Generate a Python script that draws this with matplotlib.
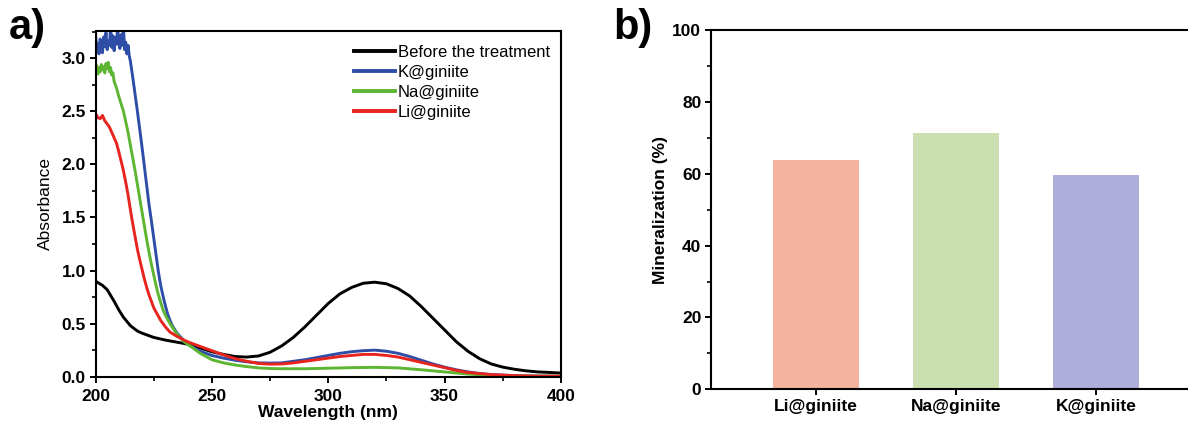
import numpy as np
import matplotlib
matplotlib.use("Agg")
import matplotlib.pyplot as plt
from matplotlib.ticker import MultipleLocator, FormatStrFormatter

plt.rcParams['font.family'] = ['Liberation Sans', 'DejaVu Sans']

# ======== Panel a: UV-vis spectra ========
wl_before = [200, 203, 205, 208, 210, 212, 215, 218, 220, 225, 230, 235, 240, 245, 250,
             255, 260, 265, 270, 275, 280, 285, 290, 295, 300, 305, 310, 315, 320, 325,
             330, 335, 340, 345, 350, 355, 360, 365, 370, 375, 380, 385, 390, 395, 400]
abs_before = [0.90, 0.86, 0.82, 0.71, 0.63, 0.56, 0.48, 0.43, 0.41, 0.37, 0.345, 0.325,
              0.305, 0.27, 0.235, 0.21, 0.19, 0.185, 0.195, 0.23, 0.29, 0.37, 0.47,
              0.58, 0.69, 0.78, 0.84, 0.88, 0.89, 0.875, 0.83, 0.76, 0.66, 0.55, 0.44,
              0.33, 0.24, 0.17, 0.12, 0.09, 0.07, 0.055, 0.045, 0.04, 0.035]

# noisy saturated region read at 0.5 nm steps
wl_k = [200, 200.5, 201, 201.5, 202, 202.5, 203, 203.5, 204, 204.5, 205, 205.5, 206,
        206.5, 207, 207.5, 208, 208.5, 209, 209.5, 210, 210.5, 211, 211.5, 212, 212.5,
        213, 213.5, 214, 214.5, 215,
        216, 217, 218, 219, 220, 221, 222, 223, 224, 225, 226, 227, 228, 229, 230, 231,
        232, 233, 235, 238, 240, 245, 250, 255, 260, 265, 270, 275, 280, 285, 290, 295,
        300, 305, 310, 315, 320, 325, 330, 335, 340, 345, 350, 355, 360, 365, 370, 380,
        390, 400]
abs_k = [3.25, 3.06, 3.14, 3.04, 3.18, 3.09, 3.05, 3.20, 3.11, 3.24, 3.08, 3.16, 3.12,
         3.30, 3.10, 3.21, 3.07, 3.19, 3.13, 3.30, 3.14, 3.09, 3.22, 3.12, 3.30, 3.08,
         3.15, 3.04, 3.12, 3.02, 2.97,
         2.82, 2.66, 2.50, 2.33, 2.16, 1.98, 1.80, 1.62, 1.47, 1.31,
         1.15, 0.99, 0.86, 0.76, 0.67, 0.59, 0.53, 0.48, 0.41, 0.34, 0.30, 0.24, 0.20,
         0.175, 0.155, 0.14, 0.13, 0.128, 0.13, 0.145, 0.16, 0.18, 0.20, 0.22, 0.235,
         0.245, 0.25, 0.24, 0.22, 0.19, 0.155, 0.12, 0.09, 0.065, 0.045, 0.03, 0.02,
         0.01, 0.006, 0.005]

wl_na = [200, 200.5, 201, 201.5, 202, 202.5, 203, 203.5, 204, 204.5, 205, 205.5, 206,
         206.5, 207, 207.5, 208, 209, 210, 211, 212, 213, 214, 215,
         216, 217, 218, 219, 220, 221, 222, 223, 224, 225, 226, 227, 228, 229, 230, 232,
         235, 238, 240, 245, 250, 255, 260, 265, 270, 275, 280, 290, 300, 310, 320, 330,
         340, 350, 360, 370, 380, 400]
abs_na = [2.88, 2.93, 2.85, 2.91, 2.87, 2.94, 2.89, 2.92, 2.86, 2.95, 2.90, 2.96, 2.87,
          2.91, 2.84, 2.86, 2.78, 2.72, 2.64, 2.57, 2.50, 2.40, 2.30, 2.18,
          2.06, 1.94, 1.81, 1.68, 1.55, 1.42, 1.29, 1.17, 1.06, 0.96,
          0.86, 0.77, 0.70, 0.63, 0.58, 0.50, 0.40, 0.33, 0.30, 0.22, 0.16, 0.13, 0.11,
          0.095, 0.083, 0.077, 0.075, 0.075, 0.08, 0.085, 0.088, 0.083, 0.065, 0.045,
          0.025, 0.012, 0.006, 0.003]

wl_li = [200, 201, 202, 203, 204, 205, 206, 207, 208, 209, 210, 211, 212, 213, 214, 215,
         216, 217, 218, 219, 220, 221, 222, 223, 224, 225, 226, 228, 230, 232, 235, 238,
         240, 245, 250, 255, 260, 265, 270, 275, 280, 285, 290, 295, 300, 305, 310, 315,
         320, 325, 330, 335, 340, 345, 350, 355, 360, 365, 370, 380, 390, 400]
abs_li = [2.48, 2.44, 2.43, 2.46, 2.41, 2.38, 2.35, 2.30, 2.25, 2.20, 2.12, 2.03, 1.94,
          1.83, 1.71, 1.57, 1.44, 1.32, 1.20, 1.10, 1.01, 0.92, 0.84, 0.77, 0.71, 0.65,
          0.61, 0.53, 0.47, 0.42, 0.38, 0.345, 0.325, 0.285, 0.245, 0.205, 0.17, 0.145,
          0.125, 0.118, 0.12, 0.13, 0.145, 0.16, 0.175, 0.19, 0.20, 0.21, 0.21, 0.20,
          0.185, 0.16, 0.135, 0.11, 0.085, 0.06, 0.04, 0.03, 0.02, 0.01, 0.005, 0.005]

series = [
    ('Before the treatment', wl_before, abs_before, 'black'),
    ('K@giniite', wl_k, abs_k, '#2E4DA7'),
    ('Na@giniite', wl_na, abs_na, '#5DB531'),
    ('Li@giniite', wl_li, abs_li, '#E8241E'),
]

# ======== Panel b: mineralization ========
samples = ['Li@giniite', 'Na@giniite', 'K@giniite']
mineralization = [63.9, 71.3, 59.6]
bar_colors = ['#F5B49F', '#CBE0B1', '#ADAEDA']

W, H = 1188, 425
fig = plt.figure(figsize=(W / 100, H / 100), dpi=100)

ax1 = fig.add_axes([95.5 / W, 1 - 376.7 / H, (561 - 95.5) / W, (376.7 - 30.5) / H])
for label, x, y, c in series:
    ax1.plot(x, y, color=c, linewidth=2.1, label=label)

ax1.set_xlim(200, 400)
ax1.set_ylim(0, 3.26)
ax1.xaxis.set_major_locator(MultipleLocator(50))
ax1.xaxis.set_minor_locator(MultipleLocator(25))
ax1.yaxis.set_major_locator(MultipleLocator(0.5))
ax1.yaxis.set_minor_locator(MultipleLocator(0.25))
ax1.yaxis.set_major_formatter(FormatStrFormatter('%.1f'))
ax1.set_xlabel('Wavelength (nm)', fontsize=12.5, fontweight='bold', labelpad=1)
ax1.set_ylabel('Absorbance', fontsize=12.5, labelpad=6)

leg = ax1.legend(loc='upper left', bbox_to_anchor=(0.555, 0.958), frameon=False,
                 fontsize=12, handlelength=2.45, handletextpad=0.2,
                 labelspacing=0.3, borderpad=0, borderaxespad=0)
for line in leg.get_lines():
    line.set_linewidth(2.8)

ax2 = fig.add_axes([711 / W, 1 - 389.3 / H, 490 / W, (389.3 - 30.2) / H])
pos = np.arange(len(samples))
ax2.bar(pos, mineralization, width=0.61, color=bar_colors)
ax2.set_xlim(-0.75, 2.75)
ax2.set_ylim(0, 100)
ax2.set_xticks(pos)
ax2.set_xticklabels(samples)
ax2.yaxis.set_major_locator(MultipleLocator(20))
ax2.yaxis.set_minor_locator(MultipleLocator(10))
ax2.set_ylabel('Mineralization (%)', fontsize=12.5, fontweight='bold', labelpad=3)
ax2.tick_params(axis='x', length=0, pad=9)

for ax in (ax1, ax2):
    for sp in ax.spines.values():
        sp.set_linewidth(1.5)
    ax.tick_params(which='major', direction='out', length=4.5, width=1.4,
                   labelsize=12.5, pad=2.5)
    ax.tick_params(which='minor', direction='out', length=2.8, width=1.2)
    for lab in ax.get_xticklabels() + ax.get_yticklabels():
        lab.set_fontweight('bold')
ax1.tick_params(axis='x', which='major', pad=4)
ax2.tick_params(axis='x', which='minor', length=0)

fig.text(9 / W, 1 - 8 / H, 'a)', fontsize=30, fontweight='bold', va='top', ha='left')
fig.text(613 / W, 1 - 8 / H, 'b)', fontsize=30, fontweight='bold', va='top', ha='left')

fig.savefig('out.png', dpi=100)
